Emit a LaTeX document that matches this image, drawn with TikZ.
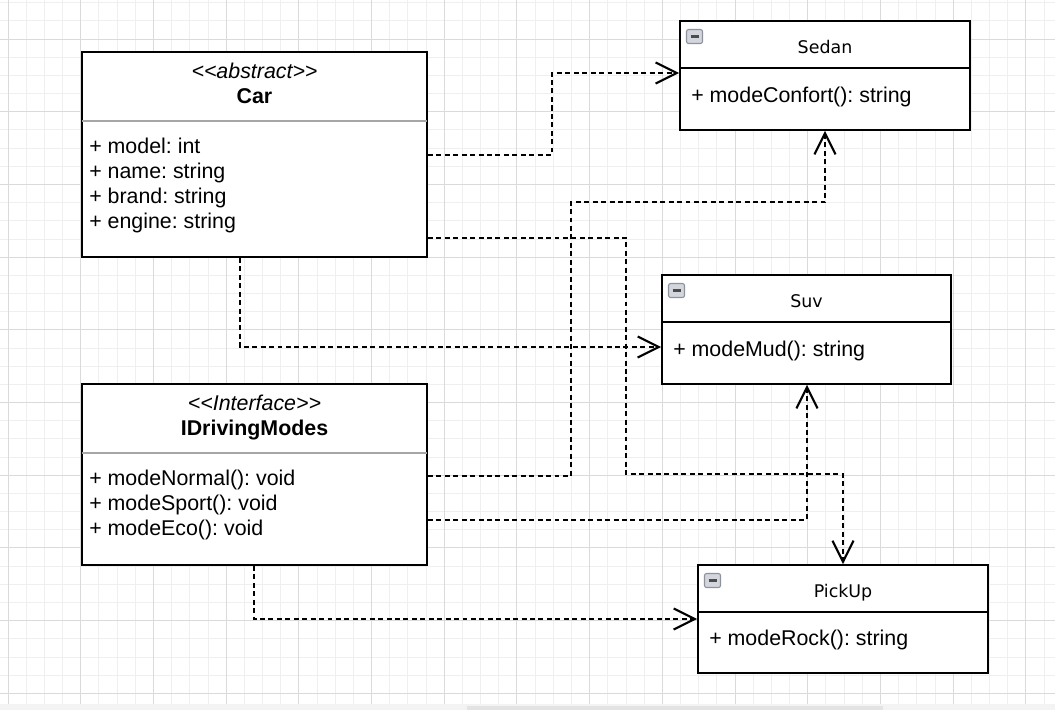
\documentclass[tikz,border=0pt]{standalone}
\usepackage{fontspec}
\setmainfont{Liberation Sans}
\newfontfamily\titlefont{DejaVu Sans}
\usetikzlibrary{arrows.meta,calc,fit}
\frenchspacing

\definecolor{gridminor}{HTML}{EFEFEF}
\definecolor{gridmajor}{HTML}{DADADA}
\definecolor{headerline}{HTML}{A6A6A6}
\definecolor{iconfill}{HTML}{D3D7DD}
\definecolor{iconedge}{HTML}{8E939B}
\definecolor{scrolltrack}{HTML}{F3F3F3}
\definecolor{scrollthumb}{HTML}{E3E3E3}

\newcommand{\guil}[1]{<\kern0pt<#1>\kern0pt>}

\tikzset{
  classbox/.style={draw=black, line width=1.4pt, fill=white, inner sep=0pt},
  member/.style={anchor=base west, inner sep=0pt, font=\fontsize{15.2}{17.7}\selectfont},
  stereo/.style={anchor=base, inner sep=0pt, font=\fontsize{15.2}{17.7}\selectfont\itshape},
  classname/.style={anchor=base, inner sep=0pt, font=\fontsize{15.2}{17.7}\selectfont\bfseries},
  boxtitle/.style={anchor=base, inner sep=0pt, font=\titlefont\fontsize{12.4}{15}\selectfont},
  realizes/.style={line width=1.45pt, dash pattern=on 3.5pt off 2.5pt, -{Straight Barb[length=15pt,width=15pt]}},
}

\begin{document}
\begin{tikzpicture}[x=0.025cm, y=-0.025cm]
\useasboundingbox (0,0) rectangle (1055,710);
% grid
\foreach \k in {-1,...,57} \draw[gridminor, line width=0.6pt] ({8+18.175*\k},0) -- ({8+18.175*\k},710);
\foreach \k in {-2,...,36} \draw[gridminor, line width=0.6pt] (0,{39+18.175*\k}) -- (1055,{39+18.175*\k});
\foreach \k in {0,...,14} \draw[gridmajor, line width=0.7pt] ({8+72.7*\k},0) -- ({8+72.7*\k},710);
\foreach \k in {0,...,9} \draw[gridmajor, line width=0.7pt] (0,{39+72.7*\k}) -- (1055,{39+72.7*\k});
\fill[scrolltrack] (0,704) rectangle (1055,710);
\fill[scrollthumb] (467,706) rectangle (883,710);

% Car
\node[classbox, fit={(82,52) (427,257)}] (car) {};
\draw[headerline, line width=1.4pt, shorten <=0.7pt, shorten >=0.7pt] (car.west |- 0,121) -- (car.east |- 0,121);
\node[stereo] (carstereo) at (254.5,78) {\guil{abstract}};
\node[classname] (carname) at (254.5,103) {Car};
\foreach \t [count=\i] in {{+ model: int},{+ name: string},{+ brand: string},{+ engine: string}}
  \node[member] (carattr\i) at (89,{128+25*\i}) {\t};

% IDrivingModes
\node[classbox, fit={(82,384) (427,565)}] (idm) {};
\draw[headerline, line width=1.4pt, shorten <=0.7pt, shorten >=0.7pt] (idm.west |- 0,453) -- (idm.east |- 0,453);
\node[stereo] (idmstereo) at (254.5,410) {\guil{Interface}};
\node[classname] (idmname) at (254.5,435) {IDrivingModes};
\foreach \t [count=\i] in {{+ modeNormal(): void},{+ modeSport(): void},{+ modeEco(): void}}
  \node[member] (idmop\i) at (89,{460+25*\i}) {\t};

% Sedan
\node[classbox, fit={(680,21) (970,130)}] (sedan) {};
\draw[line width=1.4pt] (sedan.west |- 0,68) -- (sedan.east |- 0,68);
\node[boxtitle] (sedanname) at (825,54) {Sedan};
\node[member] (sedanop) at (691,102) {+ modeConfort(): string};

% Suv
\node[classbox, fit={(662,275) (951,384)}] (suv) {};
\draw[line width=1.4pt] (suv.west |- 0,322) -- (suv.east |- 0,322);
\node[boxtitle] (suvname) at (806.5,307) {Suv};
\node[member] (suvop) at (673,356) {+ modeMud(): string};

% PickUp
\node[classbox, fit={(698,565) (988,673)}] (pickup) {};
\draw[line width=1.4pt] (pickup.west |- 0,612) -- (pickup.east |- 0,612);
\node[boxtitle] (pickupname) at (843,597) {PickUp};
\node[member] (pickupop) at (709,645) {+ modeRock(): string};

% collapse icons
\foreach \b in {sedan,suv,pickup} {
  \draw[iconedge, fill=iconfill, rounded corners=1.5pt, line width=0.8pt] ($(\b.north west)+(7.5,9.5)$) rectangle ++(16,14);
  \draw[black!70, line width=1.6pt] ($(\b.north west)+(11.5,16.5)$) -- ++(8,0);
}

% realizations
\draw[realizes] ($(car.east)+(0,0.5)$) -| (552,110) |- ($(sedan.west)+(0,-2.5)$);
\draw[realizes] ($(car.south)+(-14.5,0)$) |- ($(suv.west)+(0,17.5)$);
\draw[realizes] ($(car.east)+(0,83.5)$) -| (626,474) -| (pickup.north);
\draw[realizes] ($(idm.east)+(0,1.5)$) -| (571,202) -| (sedan.south);
\draw[realizes] ($(idm.east)+(0,45.5)$) -| ($(suv.south)+(0.5,0)$);
\draw[realizes] ($(idm.south)+(-0.5,0)$) |- (pickup.west);
\end{tikzpicture}
\end{document}
